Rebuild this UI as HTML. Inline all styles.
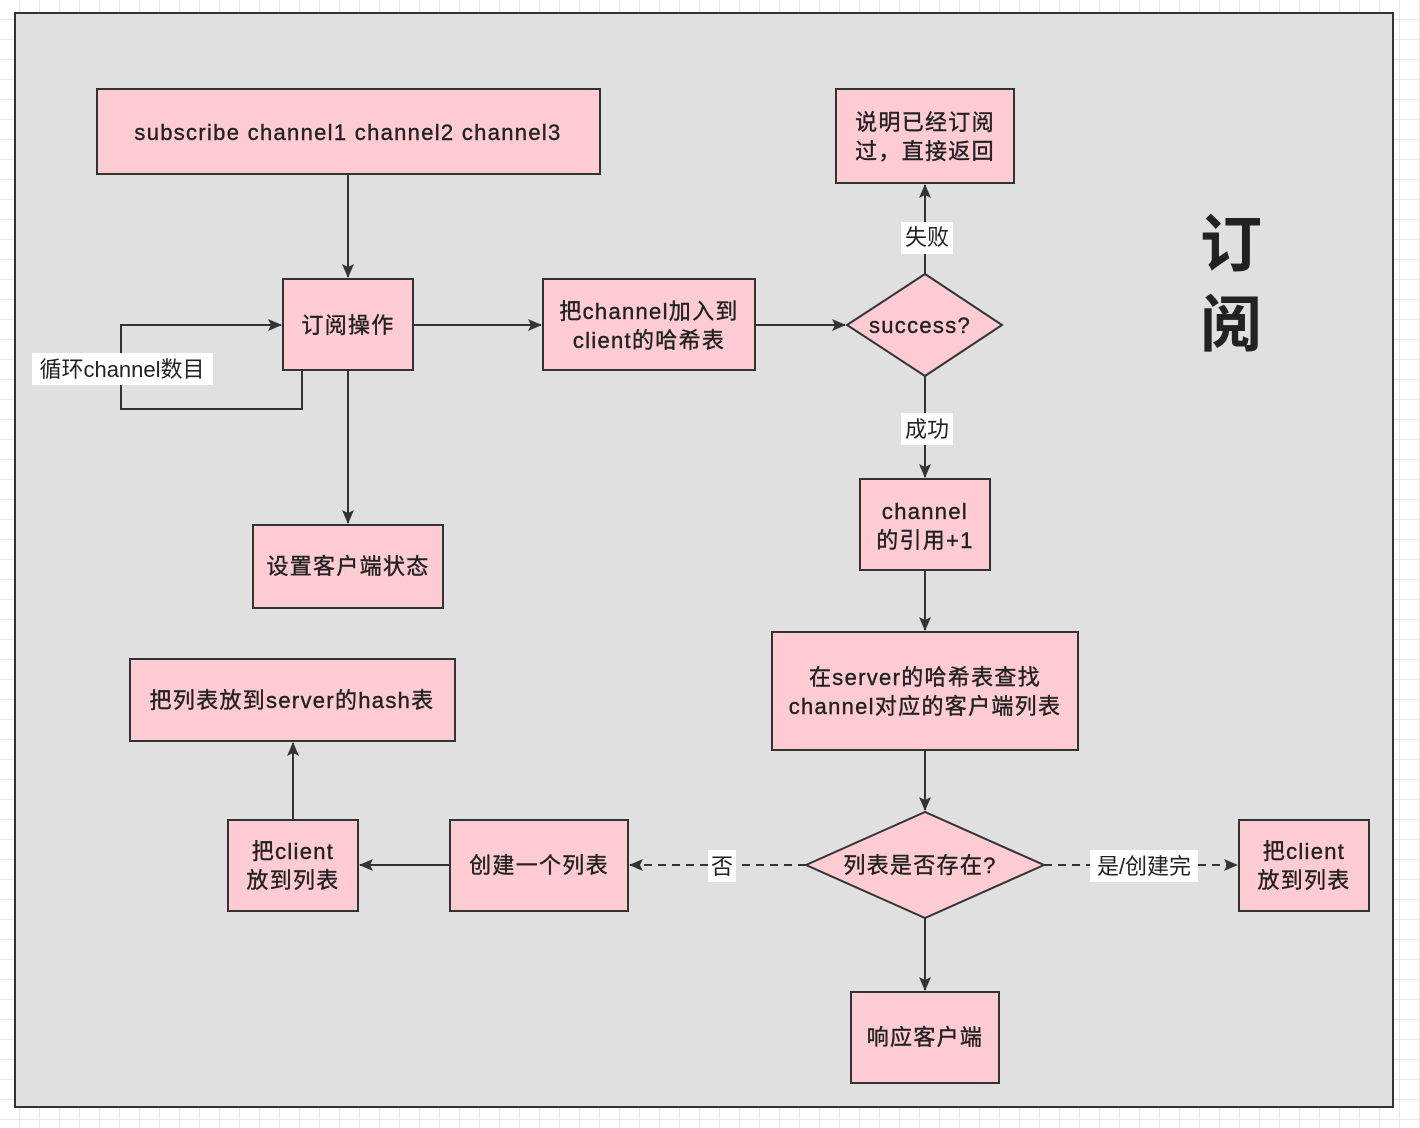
<!DOCTYPE html>
<html><head><meta charset="utf-8"><style>
html,body{margin:0;padding:0;background:#fff;}
svg{display:block;}
text{font-family:"Liberation Sans","Noto Sans CJK SC",sans-serif;fill:#222;}
.t text{stroke:#222;stroke-width:0.4;letter-spacing:1.3px;}
</style></head><body>
<svg width="1420" height="1128" viewBox="0 0 1420 1128" xmlns="http://www.w3.org/2000/svg">
<defs>
<pattern id="g" width="20" height="20" patternUnits="userSpaceOnUse"><path d="M20 0V20M0 20H20" stroke="#e8e8e8" stroke-width="2" fill="none"/></pattern>
<marker id="a" markerWidth="14" markerHeight="14" refX="13" refY="6" orient="auto" markerUnits="userSpaceOnUse"><path d="M0,0 L14,6 L0,12 L3,6 z" fill="#333"/></marker>
</defs>
<rect width="1420" height="1128" fill="url(#g)"/>
<rect x="15" y="13" width="1378" height="1094" fill="#e0e0e0" stroke="#333" stroke-width="2"/>
<g fill="#ffccd3" stroke="#333" stroke-width="2">
<rect x="97" y="89" width="503" height="85"/>
<rect x="283" y="279" width="130" height="91"/>
<rect x="543" y="279" width="212" height="91"/>
<polygon points="847,325 925,274 1002,325 925,376"/>
<rect x="836" y="89" width="178" height="94"/>
<rect x="860" y="479" width="130" height="91"/>
<rect x="772" y="632" width="306" height="118"/>
<polygon points="806,865 925,812 1044,865 925,918"/>
<rect x="1239" y="820" width="130" height="91"/>
<rect x="851" y="992" width="148" height="91"/>
<rect x="450" y="820" width="178" height="91"/>
<rect x="228" y="820" width="130" height="91"/>
<rect x="130" y="659" width="325" height="82"/>
<rect x="253" y="525" width="190" height="83"/>
</g>
<g stroke="#333" stroke-width="2" fill="none">
<path d="M348 174V277" marker-end="url(#a)"/>
<path d="M413 325H541" marker-end="url(#a)"/>
<path d="M755 325H845" marker-end="url(#a)"/>
<path d="M925 274V185" marker-end="url(#a)"/>
<path d="M925 376V477" marker-end="url(#a)"/>
<path d="M925 570V630" marker-end="url(#a)"/>
<path d="M925 750V810" marker-end="url(#a)"/>
<path d="M925 918V990" marker-end="url(#a)"/>
<path d="M348 370V523" marker-end="url(#a)"/>
<path d="M302 370V409H121V325H281" marker-end="url(#a)"/>
<path d="M806 865H630" stroke-dasharray="8,6" marker-end="url(#a)"/>
<path d="M1044 865H1237" stroke-dasharray="8,6" marker-end="url(#a)"/>
<path d="M450 865H360" marker-end="url(#a)"/>
<path d="M293 820V743" marker-end="url(#a)"/>
</g>
<g fill="#fff">
<rect x="32" y="353" width="181" height="32"/>
<rect x="901" y="222" width="52" height="32"/>
<rect x="901" y="413" width="52" height="32"/>
<rect x="708" y="850" width="28" height="32"/>
<rect x="1090" y="850" width="108" height="32"/>
</g>
<g class="t" font-size="22" text-anchor="middle">
<text x="348" y="140">subscribe channel1 channel2 channel3</text>
<text x="348" y="333">订阅操作</text>
<text x="649" y="319">把channel加入到</text>
<text x="649" y="348">client的哈希表</text>
<text x="920" y="333">success?</text>
<text x="925" y="130">说明已经订阅</text>
<text x="925" y="159">过，直接返回</text>
<text x="925" y="519">channel</text>
<text x="925" y="548">的引用+1</text>
<text x="925" y="685">在server的哈希表查找</text>
<text x="925" y="714">channel对应的客户端列表</text>
<text x="920" y="873">列表是否存在?</text>
<text x="1304" y="859">把client</text>
<text x="1304" y="888">放到列表</text>
<text x="925" y="1045">响应客户端</text>
<text x="539" y="873">创建一个列表</text>
<text x="293" y="859">把client</text>
<text x="293" y="888">放到列表</text>
<text x="292" y="708">把列表放到server的hash表</text>
<text x="348" y="574">设置客户端状态</text>
</g>
<g font-size="22" text-anchor="middle">
<text x="122" y="377">循环channel数目</text>
<text x="927" y="245">失败</text>
<text x="927" y="437">成功</text>
<text x="722" y="874">否</text>
<text x="1144" y="874">是/创建完</text>
</g>
<g font-size="62" font-weight="bold" text-anchor="middle">
<text x="1231" y="266">订</text>
<text x="1231" y="346">阅</text>
</g>
</svg>
</body></html>
